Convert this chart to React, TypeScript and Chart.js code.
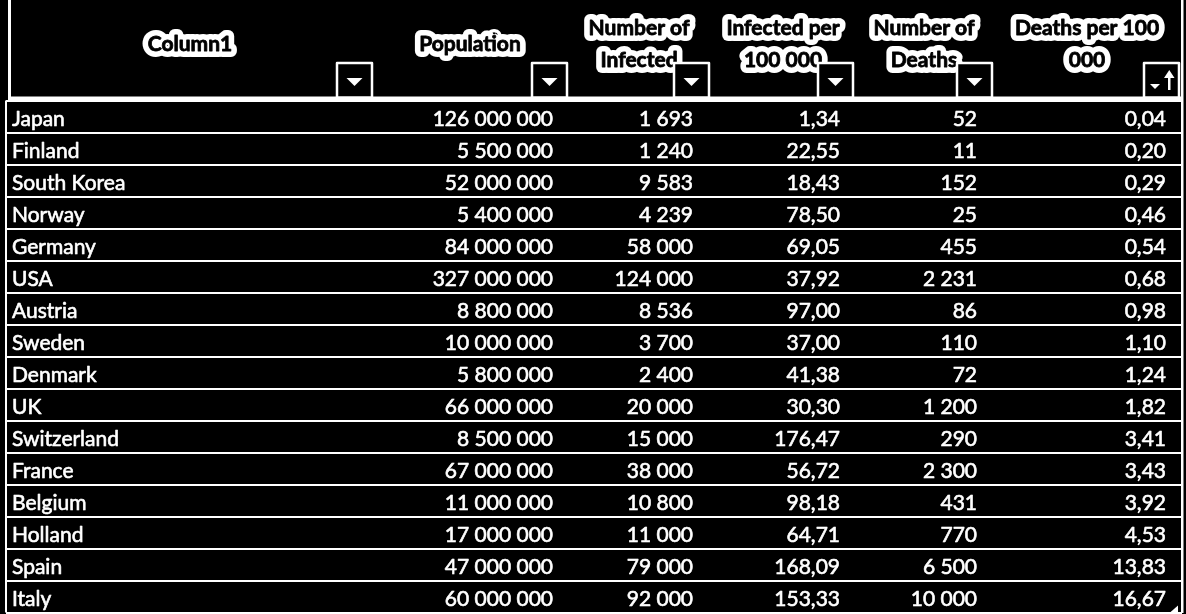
import React, { useEffect, useRef } from "react";
import { Chart, registerables } from "chart.js";

Chart.register(...registerables);

const countries = [
  "Japan", "Finland", "South Korea", "Norway", "Germany", "USA", "Austria", "Sweden",
  "Denmark", "UK", "Switzerland", "France", "Belgium", "Holland", "Spain", "Italy",
];
const population = [
  126000000, 5500000, 52000000, 5400000, 84000000, 327000000, 8800000, 10000000,
  5800000, 66000000, 8500000, 67000000, 11000000, 17000000, 47000000, 60000000,
];
const infected = [
  1693, 1240, 9583, 4239, 58000, 124000, 8536, 3700,
  2400, 20000, 15000, 38000, 10800, 11000, 79000, 92000,
];
const infectedPer100k = [
  1.34, 22.55, 18.43, 78.5, 69.05, 37.92, 97.0, 37.0,
  41.38, 30.3, 176.47, 56.72, 98.18, 64.71, 168.09, 153.33,
];
const deaths = [
  52, 11, 152, 25, 455, 2231, 86, 110,
  72, 1200, 290, 2300, 431, 770, 6500, 10000,
];
const deathsPer100k = [
  0.04, 0.2, 0.29, 0.46, 0.54, 0.68, 0.98, 1.1,
  1.24, 1.82, 3.41, 3.43, 3.92, 4.53, 13.83, 16.67,
];
const headerLines = [
  ["Column1"],
  ["Population"],
  ["Number of", "Infected"],
  ["Infected per", "100 000"],
  ["Number of", "Deaths"],
  ["Deaths per 100", "000"],
];

function fmtInt(v: number): string {
  return Math.round(v).toString().replace(/\B(?=(\d{3})+(?!\d))/g, " ");
}
function fmtDec(v: number): string {
  const [i, d] = v.toFixed(2).split(".");
  return fmtInt(Number(i)) + "," + d;
}

// layout (pixels)
const FONT = "Lato";
const colTextX = [12, 553, 693, 840, 977, 1166];
const headerCenterX = [190, 470, 639, 783, 924, 1087];
const buttonX = [337, 532, 674, 818, 957, 1144];
const BUTTON_W = 35;

const columnValues: ((i: number) => string)[] = [
  (i) => countries[i],
  (i) => fmtInt(population[i]),
  (i) => fmtInt(infected[i]),
  (i) => fmtDec(infectedPer100k[i]),
  (i) => fmtInt(deaths[i]),
  (i) => fmtDec(deathsPer100k[i]),
];

const tablePlugin = {
  id: "tablePlugin",
  beforeDraw(chart: any) {
    const ctx = chart.ctx as CanvasRenderingContext2D;
    ctx.save();
    ctx.fillStyle = "#000";
    ctx.fillRect(0, 0, chart.width, chart.height);
    ctx.restore();
  },
  afterDraw(chart: any) {
    const ctx = chart.ctx as CanvasRenderingContext2D;
    const yScale = chart.scales.y;
    const area = chart.chartArea;
    ctx.save();

    // borders
    ctx.fillStyle = "#fff";
    ctx.fillRect(8, 0, 3, area.top);
    ctx.fillRect(area.right - 1, 0, 2.5, chart.height - 1);
    ctx.fillRect(5, area.top, 2, area.bottom - area.top);
    ctx.fillRect(8, area.top - 4, area.right - 8, 4);

    // header texts
    ctx.font = `bold 21px ${FONT}`;
    ctx.textAlign = "center";
    ctx.textBaseline = "alphabetic";
    ctx.lineJoin = "round";
    headerLines.forEach((lines, c) => {
      const baselines = lines.length === 1 ? [51] : [35, 67];
      lines.forEach((t, k) => {
        ctx.strokeStyle = "#fff";
        ctx.lineWidth = 12;
        ctx.strokeText(t, headerCenterX[c], baselines[k]);
      });
    });
    headerLines.forEach((lines, c) => {
      const baselines = lines.length === 1 ? [51] : [35, 67];
      lines.forEach((t, k) => {
        ctx.fillStyle = "#000";
        ctx.strokeStyle = "#000";
        ctx.lineWidth = 0.8;
        ctx.fillText(t, headerCenterX[c], baselines[k]);
        ctx.strokeText(t, headerCenterX[c], baselines[k]);
      });
    });

    // filter buttons
    buttonX.forEach((bx, c) => {
      const top = 63;
      const bottom = area.top - 3;
      ctx.fillStyle = "#000";
      ctx.fillRect(bx, top, BUTTON_W, bottom - top);
      ctx.strokeStyle = "#fff";
      ctx.lineWidth = 2.5;
      ctx.strokeRect(bx, top, BUTTON_W, bottom - top);
      ctx.fillStyle = "#fff";
      if (c < buttonX.length - 1) {
        const cx = bx + BUTTON_W / 2;
        ctx.beginPath();
        ctx.moveTo(cx - 8, 78);
        ctx.lineTo(cx + 8, 78);
        ctx.lineTo(cx, 86);
        ctx.closePath();
        ctx.fill();
      } else {
        const cx = bx + 11;
        ctx.beginPath();
        ctx.moveTo(cx - 5, 84);
        ctx.lineTo(cx + 5, 84);
        ctx.lineTo(cx, 89);
        ctx.closePath();
        ctx.fill();
        const ax = bx + 25;
        ctx.fillRect(ax - 1, 74, 2.5, 16);
        ctx.beginPath();
        ctx.moveTo(ax - 5, 78);
        ctx.lineTo(ax + 0.25, 70);
        ctx.lineTo(ax + 5.5, 78);
        ctx.closePath();
        ctx.fill();
      }
    });

    // cells
    ctx.font = `21px ${FONT}`;
    ctx.fillStyle = "#fff";
    ctx.strokeStyle = "#fff";
    ctx.lineWidth = 0.6;
    countries.forEach((_, i) => {
      const base = yScale.getPixelForValue(i) + 9.5;
      columnValues.forEach((fn, c) => {
        ctx.textAlign = c === 0 ? "left" : "right";
        ctx.fillText(fn(i), colTextX[c], base);
        ctx.strokeText(fn(i), colTextX[c], base);
      });
    });

    // resize handle
    ctx.beginPath();
    ctx.moveTo(area.right - 12, area.bottom);
    ctx.lineTo(area.right - 4, area.bottom);
    ctx.lineTo(area.right - 4, area.bottom - 7);
    ctx.closePath();
    ctx.fill();

    ctx.restore();
  },
};

export default function App() {
  const ref = useRef<HTMLCanvasElement | null>(null);
  useEffect(() => {
    document.body.style.margin = "0";
    document.body.style.background = "#000";
    if (!ref.current) return;
    const chart = new Chart(ref.current, {
      type: "bar",
      data: {
        labels: countries,
        datasets: [
          {
            label: "Deaths per 100 000",
            data: deathsPer100k,
            backgroundColor: "rgba(0,0,0,0)",
            borderWidth: 0,
          },
        ],
      },
      options: {
        animation: false,
        responsive: true,
        maintainAspectRatio: false,
        indexAxis: "y",
        layout: { padding: { top: 100.5, left: 6, right: 4, bottom: 1.5 } },
        plugins: { legend: { display: false }, tooltip: { enabled: false } },
        scales: {
          x: { display: false, min: 0, max: 20 },
          y: {
            type: "category",
            offset: true,
            ticks: { display: false },
            grid: { color: "#fff", lineWidth: 2, offset: true, drawTicks: false },
            border: { display: false },
            afterFit: (s: any) => {
              s.width = 0;
            },
          },
        },
      },
      plugins: [tablePlugin],
    });
    return () => chart.destroy();
  }, []);
  return (
    <div style={{ width: 1186, height: 614, background: "#000" }}>
      <canvas ref={ref} />
    </div>
  );
}
